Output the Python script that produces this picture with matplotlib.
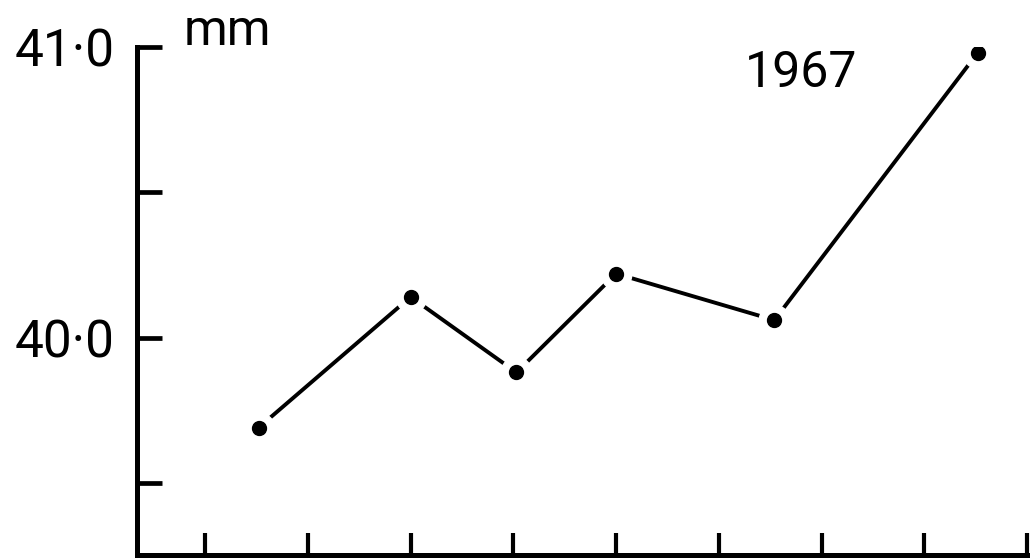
import matplotlib
matplotlib.use('Agg')
import matplotlib.pyplot as plt

# readings (x in tick units, tick 1..9 along the bottom axis)
x_vals = [1.52, 3.0, 4.03, 5.0, 6.54, 8.52]
y_vals = [39.69, 40.14, 39.88, 40.22, 40.06, 40.98]
y_ticks = [39.5, 40.0, 40.5, 41.0]
y_labels = ['', '40·0', '', '41·0']
x_ticks = [1, 2, 3, 4, 5, 6, 7, 8, 9]

plt.rcParams['font.family'] = ['Roboto', 'DejaVu Sans']

fig = plt.figure(figsize=(10.34, 5.59), dpi=100)
ax = fig.add_axes([0.1325, 0.0072, 0.8608, 0.9088])

# line, then white halos so the line stops short of each dot, then the dots
ax.plot(x_vals, y_vals, color='black', linewidth=2.8, zorder=2,
        solid_capstyle='round')
ax.plot(x_vals, y_vals, linestyle='none', marker='o', markersize=22,
        color='white', zorder=3)
ax.plot(x_vals, y_vals, linestyle='none', marker='o', markersize=10,
        color='black', zorder=4)

ax.set_xlim(0.337, 9.0)
ax.set_ylim(39.252, 41.0)

ax.set_xticks(x_ticks)
ax.set_xticklabels([])
ax.set_yticks(y_ticks)
ax.set_yticklabels(y_labels)

ax.tick_params(axis='x', direction='in', length=16, width=3.0)
ax.tick_params(axis='y', direction='in', length=18, width=3.4,
               labelsize=37, pad=16)

for side in ['top', 'right']:
    ax.spines[side].set_visible(False)
for side in ['left', 'bottom']:
    ax.spines[side].set_linewidth(3.6)
    ax.spines[side].set_capstyle('projecting')

ax.text(0.052, 1.004, 'mm', transform=ax.transAxes, fontsize=36,
        ha='left', va='baseline', clip_on=False)
ax.text(0.683, 0.921, '1967', transform=ax.transAxes, fontsize=36,
        ha='left', va='baseline')

fig.savefig('out.png', dpi=100)
